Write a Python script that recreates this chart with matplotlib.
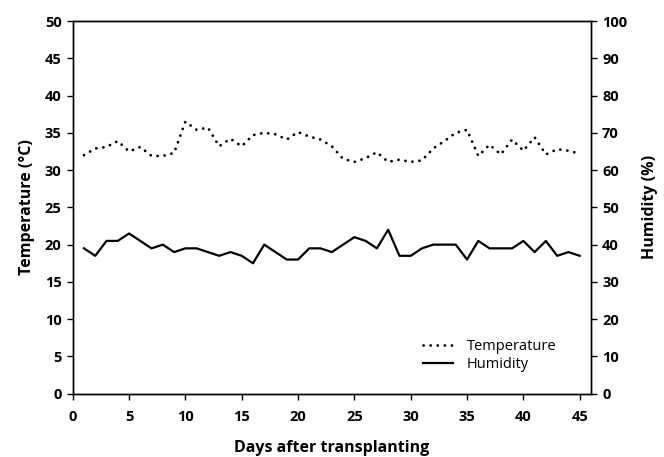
import matplotlib
matplotlib.use("Agg")
import matplotlib.pyplot as plt

days = list(range(1, 46))
temperature = [32.0, 32.9, 33.1, 33.9, 32.5, 33.1, 31.9, 31.9, 32.3, 36.5,
               35.4, 35.7, 33.2, 34.2, 33.2, 34.7, 35.0, 34.8, 34.1, 35.1,
               34.5, 34.1, 33.2, 31.5, 31.1, 31.6, 32.4, 31.1, 31.4, 31.1,
               31.3, 32.9, 33.9, 35.0, 35.4, 31.9, 33.4, 32.1, 34.1, 32.6,
               34.4, 32.1, 32.8, 32.6, 32.2]
humidity = [39, 37, 41, 41, 43, 41, 39, 40, 38, 39, 39, 38, 37, 38, 37, 35, 40, 38,
            36, 36, 39, 39, 38, 40, 42, 41, 39, 44, 37, 37, 39, 40, 40, 40, 36, 41,
            39, 39, 39, 41, 38, 41, 37, 38, 37]
x_ticks = [0, 5, 10, 15, 20, 25, 30, 35, 40, 45]
temp_ticks = [0, 5, 10, 15, 20, 25, 30, 35, 40, 45, 50]
hum_ticks = [0, 10, 20, 30, 40, 50, 60, 70, 80, 90, 100]

plt.rcParams['font.family'] = ['Open Sans', 'DejaVu Sans']

fig = plt.figure(figsize=(6.64, 4.57), dpi=100)
ax = fig.add_axes([0.1095, 0.1385, 0.7805, 0.8155])
ax2 = ax.twinx()

l1, = ax.plot(days, temperature, color='black', lw=2.0,
              linestyle=(0, (0.05, 2.5)), dash_capstyle='round', label='Temperature')
l2, = ax2.plot(days, humidity, color='black', lw=1.6, label='Humidity')

ax.set_xlim(0, 46)
ax.set_ylim(0, 50)
ax2.set_ylim(0, 100)
ax.set_xticks(x_ticks)
ax.set_yticks(temp_ticks)
ax2.set_yticks(hum_ticks)

for a in (ax, ax2):
    a.tick_params(direction='out', length=4, width=1, labelsize=10.5, pad=4)
    for lab in a.get_xticklabels() + a.get_yticklabels():
        lab.set_fontweight('bold')
    for s in a.spines.values():
        s.set_linewidth(1.0)
ax.tick_params(axis='x', pad=8)

ax.set_xlabel('Days after transplanting', fontsize=11.5, fontweight='bold', labelpad=11)
ax.set_ylabel('Temperature (°C)', fontsize=11.5, fontweight='bold', labelpad=7)
ax2.set_ylabel('Humidity (%)', fontsize=11.5, fontweight='bold', labelpad=11)

ax.legend([l1, l2], ['Temperature', 'Humidity'], loc='lower left',
          bbox_to_anchor=(0.65, 0.022), frameon=False, fontsize=10.5,
          handlelength=2.1, handletextpad=0.9, labelspacing=0.25)

fig.savefig('out.png', dpi=100)
